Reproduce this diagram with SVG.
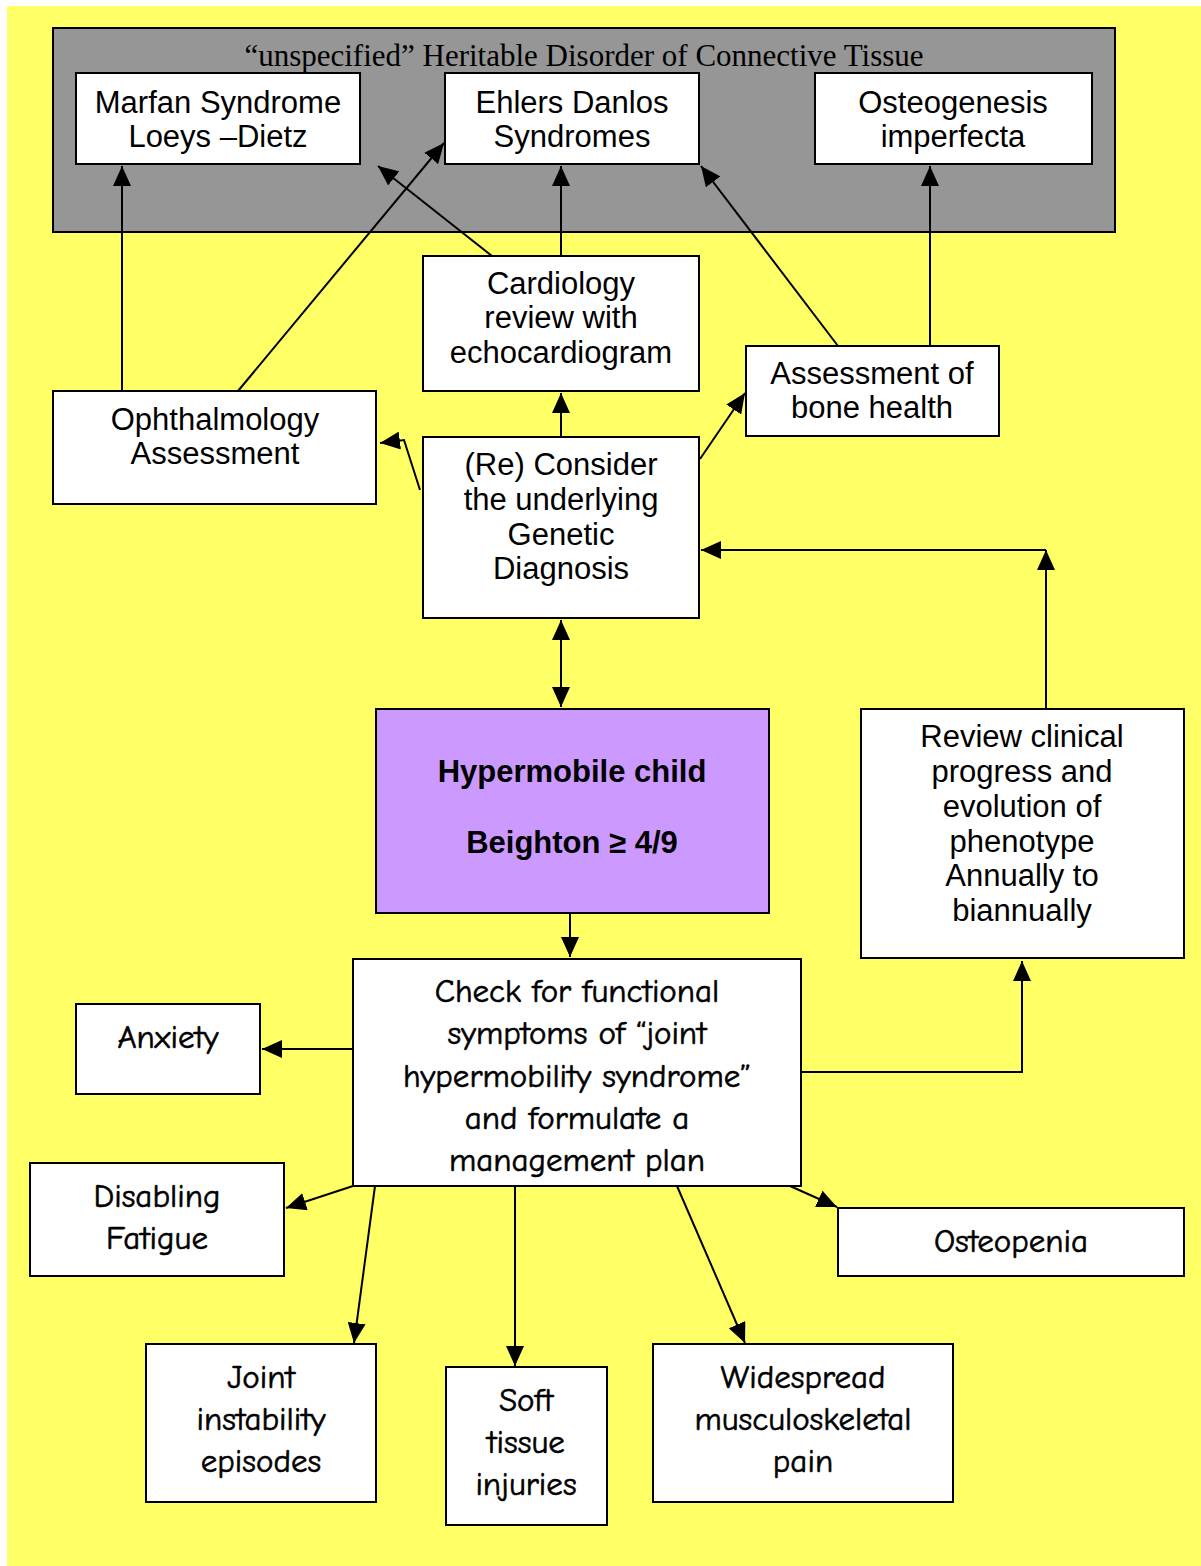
<svg xmlns="http://www.w3.org/2000/svg" width="1201" height="1566" viewBox="0 0 1201 1566">
<style>
.box{fill:#fff;stroke:#000;stroke-width:2}
.h{font-family:"Liberation Sans",Arial,sans-serif;font-size:31px;fill:#000;text-anchor:middle}
.c{font-family:"Comic Sans MS","Comic Neue","Liberation Sans",sans-serif;font-size:33px;fill:#000;stroke:#000;stroke-width:0.6;text-anchor:middle}
.b{font-family:"Liberation Sans",Arial,sans-serif;font-size:31px;font-weight:bold;fill:#000;text-anchor:middle}
.ln{fill:none;stroke:#000;stroke-width:2;marker-end:url(#ah)}
</style>
<defs>
<marker id="ah" viewBox="0 0 20 18" markerWidth="20" markerHeight="18" refX="20" refY="9" orient="auto" markerUnits="userSpaceOnUse">
<path d="M0,0 L20,9 L0,18 Z" fill="#000"/>
</marker>
<marker id="as" viewBox="0 0 20 18" markerWidth="20" markerHeight="18" refX="20" refY="9" orient="auto-start-reverse" markerUnits="userSpaceOnUse">
<path d="M0,0 L20,9 L0,18 Z" fill="#000"/>
</marker>
</defs>
<rect x="0" y="0" width="1201" height="1566" fill="#fff"/>
<rect x="7" y="6" width="1194" height="1560" fill="#FFFF66"/>
<g id="hdct">
<rect x="53" y="28" width="1062" height="204" fill="#969696" stroke="#000" stroke-width="2"/>
<text x="584" y="66" font-family="'Liberation Serif','Times New Roman',serif" font-size="31" text-anchor="middle">“unspecified” Heritable Disorder of Connective Tissue</text>
</g>
<g id="connectors">
<path class="ln" d="M122,391 L122,166"/>
<path class="ln" d="M238,391 L444,143"/>
<path class="ln" d="M492,256 L378,166"/>
<path class="ln" d="M561,256 L561,166"/>
<path class="ln" d="M838,346 L701,166"/>
<path class="ln" d="M930,346 L930,166"/>
<path class="ln" d="M561,437 L561,393"/>
<path class="ln" d="M420,490 L404,440 L380,443"/>
<path class="ln" d="M700,459 L745,393"/>
<path class="ln" d="M1046,709 L1046,550"/>
<path class="ln" d="M1046,550 L701,550"/>
<path class="ln" d="M561,620 L561,707" marker-start="url(#as)"/>
<path class="ln" d="M570,913 L570,957"/>
<path class="ln" d="M801,1072 L1022,1072 L1022,961"/>
<path class="ln" d="M353,1049 L262,1049"/>
<path class="ln" d="M353,1186 L286,1208"/>
<path class="ln" d="M375,1186 L354,1343"/>
<path class="ln" d="M515,1186 L515,1366"/>
<path class="ln" d="M677,1186 L745,1343"/>
<path class="ln" d="M790,1186 L837,1207"/>
</g>
<g id="marfan">
<rect class="box" x="76" y="73" width="284" height="91"/>
<text class="h" x="218" y="113">Marfan Syndrome</text>
<text class="h" x="218" y="147">Loeys –Dietz</text>
</g>
<g id="ehlers">
<rect class="box" x="445" y="73" width="254" height="91"/>
<text class="h" x="572" y="113">Ehlers Danlos</text>
<text class="h" x="572" y="147">Syndromes</text>
</g>
<g id="osteogenesis">
<rect class="box" x="815" y="73" width="277" height="91"/>
<text class="h" x="953" y="113">Osteogenesis</text>
<text class="h" x="953" y="147">imperfecta</text>
</g>
<g id="cardiology">
<rect class="box" x="423" y="256" width="276" height="135"/>
<text class="h" x="561" y="294">Cardiology</text>
<text class="h" x="561" y="328">review with</text>
<text class="h" x="561" y="363">echocardiogram</text>
</g>
<g id="bone">
<rect class="box" x="746" y="346" width="253" height="90"/>
<text class="h" x="872" y="384">Assessment of</text>
<text class="h" x="872" y="418">bone health</text>
</g>
<g id="ophthalmology">
<rect class="box" x="53" y="391" width="323" height="113"/>
<text class="h" x="215" y="430">Ophthalmology</text>
<text class="h" x="215" y="464">Assessment</text>
</g>
<g id="consider">
<rect class="box" x="423" y="437" width="276" height="181"/>
<text class="h" x="561" y="475">(Re) Consider</text>
<text class="h" x="561" y="510">the underlying</text>
<text class="h" x="561" y="545">Genetic</text>
<text class="h" x="561" y="579">Diagnosis</text>
</g>
<g id="hypermobile">
<rect x="376" y="709" width="393" height="204" fill="#CC99FF" stroke="#000" stroke-width="2"/>
<text class="b" x="572" y="782">Hypermobile child</text>
<text class="b" x="572" y="853">Beighton ≥ 4/9</text>
</g>
<g id="review">
<rect class="box" x="861" y="709" width="323" height="249"/>
<text class="h" x="1022" y="747">Review clinical</text>
<text class="h" x="1022" y="782">progress and</text>
<text class="h" x="1022" y="817">evolution of</text>
<text class="h" x="1022" y="852">phenotype</text>
<text class="h" x="1022" y="886">Annually to</text>
<text class="h" x="1022" y="921">biannually</text>
</g>
<g id="check">
<rect class="box" x="353" y="959" width="448" height="227"/>
<text class="c" x="577" y="1002">Check for functional</text>
<text class="c" x="577" y="1044">symptoms of “joint</text>
<text class="c" x="577" y="1087">hypermobility syndrome”</text>
<text class="c" x="577" y="1129">and formulate a</text>
<text class="c" x="577" y="1171">management plan</text>
</g>
<g id="anxiety">
<rect class="box" x="76" y="1004" width="184" height="90"/>
<text class="c" x="168" y="1048">Anxiety</text>
</g>
<g id="fatigue">
<rect class="box" x="30" y="1163" width="254" height="113"/>
<text class="c" x="157" y="1207">Disabling</text>
<text class="c" x="157" y="1249">Fatigue</text>
</g>
<g id="osteopenia">
<rect class="box" x="838" y="1208" width="346" height="68"/>
<text class="c" x="1011" y="1252">Osteopenia</text>
</g>
<g id="joint">
<rect class="box" x="146" y="1344" width="230" height="158"/>
<text class="c" x="261" y="1388">Joint</text>
<text class="c" x="261" y="1430">instability</text>
<text class="c" x="261" y="1472">episodes</text>
</g>
<g id="soft">
<rect class="box" x="446" y="1367" width="161" height="158"/>
<text class="c" x="526" y="1411">Soft</text>
<text class="c" x="526" y="1453">tissue</text>
<text class="c" x="526" y="1495">injuries</text>
</g>
<g id="widespread">
<rect class="box" x="653" y="1344" width="300" height="158"/>
<text class="c" x="803" y="1388">Widespread</text>
<text class="c" x="803" y="1430">musculoskeletal</text>
<text class="c" x="803" y="1472">pain</text>
</g>
</svg>
